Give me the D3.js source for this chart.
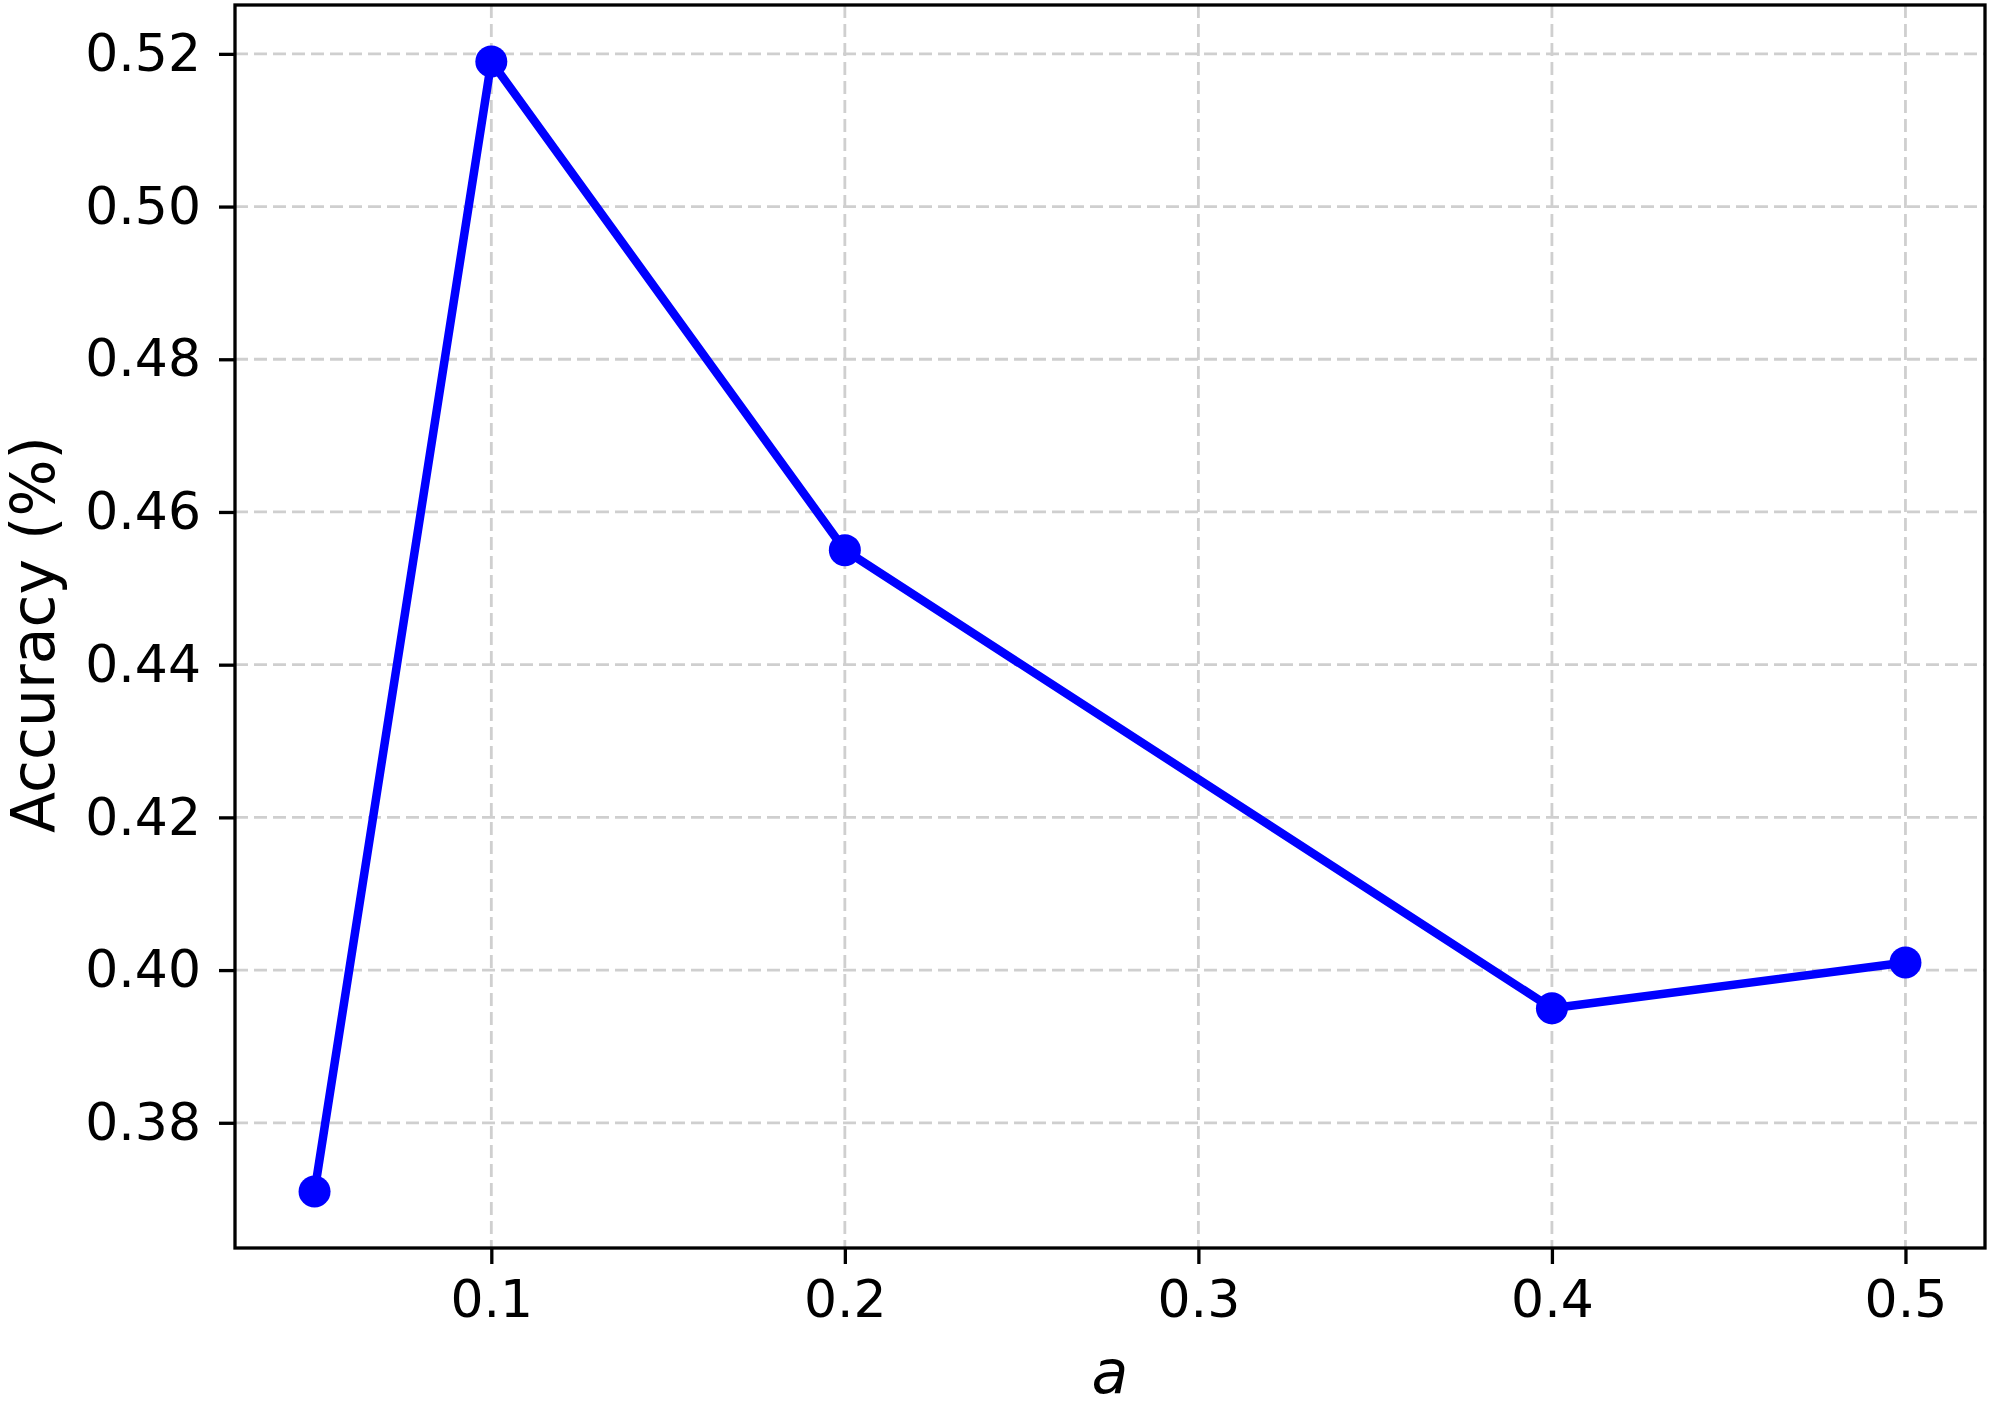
<!DOCTYPE html>
<html>
<head>
<meta charset="utf-8">
<script src="https://cdn.jsdelivr.net/npm/d3@7"></script>
<style>
  html, body { margin: 0; padding: 0; background: #fff; }
  svg { display: block; font-family: "DejaVu Sans", sans-serif; }
</style>
</head>
<body>
<svg id="chart" width="1991" height="1403"></svg>
<script>
// Data
const aValues = [0.05, 0.1, 0.2, 0.4, 0.5];
const accuracy = [0.371, 0.519, 0.455, 0.395, 0.401];
const xTicks = [0.1, 0.2, 0.3, 0.4, 0.5];
const yTicks = [0.38, 0.40, 0.42, 0.44, 0.46, 0.48, 0.50, 0.52];
const xLabel = "a";
const yLabel = "Accuracy (%)";

(function () {
const W = 1991, H = 1403;
const pL = 235, pR = 1985, pT = 5, pB = 1248;

function padded(arr) {
  const [lo, hi] = d3.extent(arr);
  const m = (hi - lo) * 0.05;
  return [lo - m, hi + m];
}

const x = d3.scaleLinear().domain(padded(aValues)).range([pL, pR]);
const y = d3.scaleLinear().domain(padded(accuracy)).range([pB, pT]);

const svg = d3.select("#chart");
svg.append("rect").attr("width", W).attr("height", H).attr("fill", "#fff");

// Grid
const grid = svg.append("g");
grid.selectAll("line.gx").data(xTicks).join("line")
  .attr("class", "gx")
  .attr("x1", d => x(d)).attr("x2", d => x(d))
  .attr("y1", pT).attr("y2", pB)
  .attr("stroke", "#cfcfcf").attr("stroke-width", 2.8)
  .attr("stroke-dasharray", "13,6");
grid.selectAll("line.gy").data(yTicks).join("line")
  .attr("class", "gy")
  .attr("x1", pL).attr("x2", pR)
  .attr("y1", d => y(d)).attr("y2", d => y(d))
  .attr("stroke", "#cfcfcf").attr("stroke-width", 2.8)
  .attr("stroke-dasharray", "13,6");

// Axes
const xAxis = d3.axisBottom(x).tickValues(xTicks).tickFormat(d3.format(".1f"))
  .tickSizeInner(16).tickSizeOuter(0).tickPadding(16);
const yAxis = d3.axisLeft(y).tickValues(yTicks).tickFormat(d3.format(".2f"))
  .tickSizeInner(16).tickSizeOuter(0).tickPadding(18);

const gx = svg.append("g").attr("transform", `translate(0,${pB})`).call(xAxis);
const gy = svg.append("g").attr("transform", `translate(${pL},0)`).call(yAxis);
[gx, gy].forEach(g => {
  g.select(".domain").remove();
  g.selectAll(".tick line").attr("stroke", "#000").attr("stroke-width", 3.3);
  g.selectAll(".tick text").attr("fill", "#000")
    .style("font-family", "'DejaVu Sans', sans-serif").style("font-size", "52px");
});

// Line + markers
const line = d3.line().x((d, i) => x(aValues[i])).y(d => y(d));
svg.append("path").datum(accuracy)
  .attr("d", line).attr("fill", "none")
  .attr("stroke", "#0000ff").attr("stroke-width", 8.5).attr("stroke-linejoin", "round");
svg.selectAll("circle.pt").data(accuracy).join("circle")
  .attr("class", "pt")
  .attr("cx", (d, i) => x(aValues[i])).attr("cy", d => y(d))
  .attr("r", 16).attr("fill", "#0000ff");

// Frame
svg.append("rect").attr("x", pL).attr("y", pT)
  .attr("width", pR - pL).attr("height", pB - pT)
  .attr("fill", "none").attr("stroke", "#000").attr("stroke-width", 3.3);

// Labels
svg.append("text").attr("x", (pL + pR) / 2).attr("y", 1393)
  .attr("text-anchor", "middle").style("font-size", "60px").style("font-style", "italic")
  .text(xLabel);
svg.append("text")
  .attr("transform", `translate(54,${(pT + pB) / 2 + 8}) rotate(-90)`)
  .attr("text-anchor", "middle").style("font-size", "60px")
  .text(yLabel);
})();
</script>
</body>
</html>
